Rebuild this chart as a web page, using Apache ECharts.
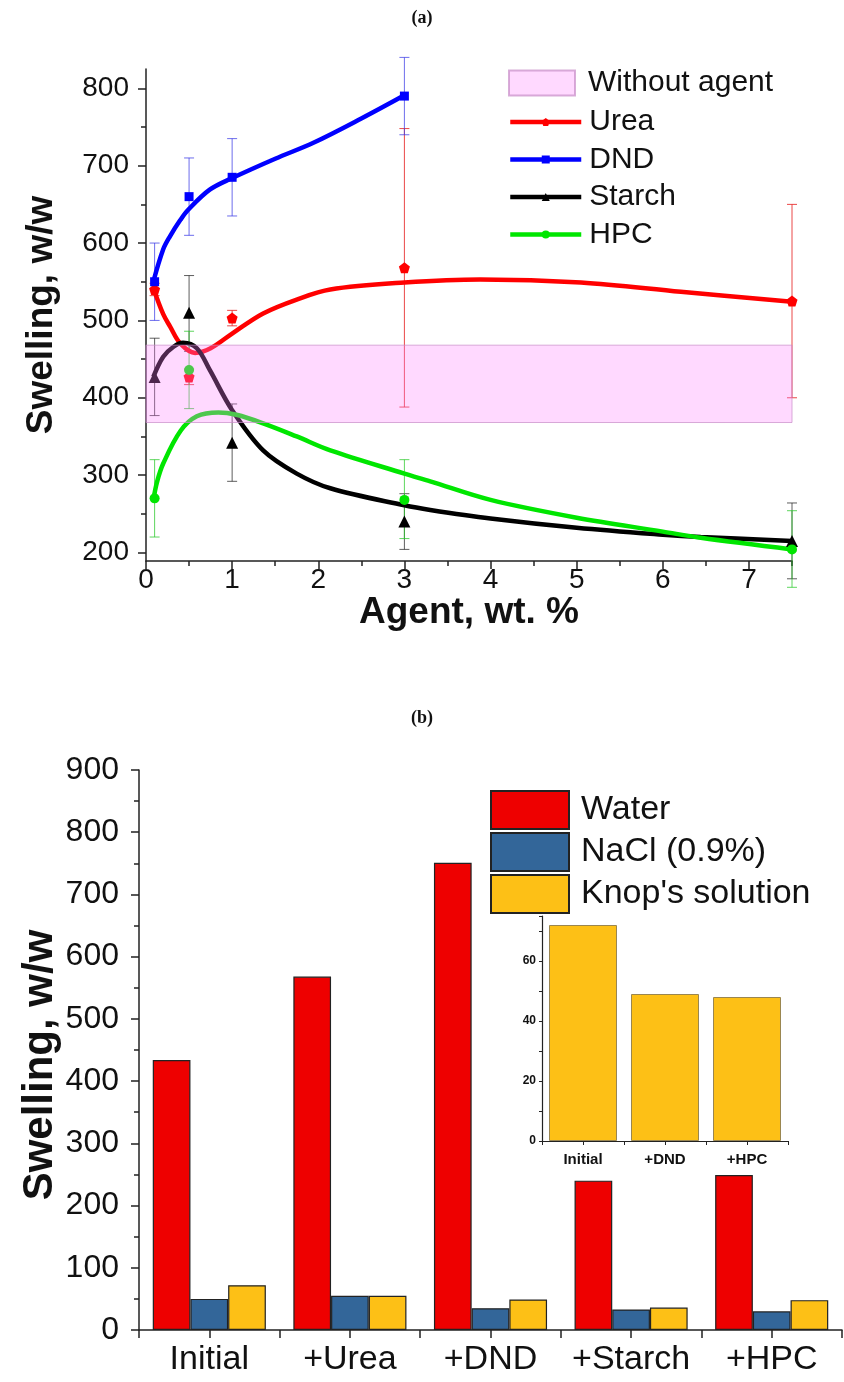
<!DOCTYPE html>
<html><head><meta charset="utf-8">
<script src="https://cdn.jsdelivr.net/npm/echarts@6/dist/echarts.min.js"></script>
<style>html,body{margin:0;padding:0;background:#fff;} #c{width:844px;height:1382px;}</style>
</head><body><div id="c"></div>
<script>
// ---------- Panel (a) data ----------
const topX = [0.1, 0.5, 1, 3, 7.5];
const ureaVal = [540, 427, 503, 568, 525];
const ureaLow = [532, 417, 493, 388, 400];
const ureaHigh = [548, 437, 513, 748, 650];
const dndX = [0.1, 0.5, 1, 3];
const dndVal = [550, 660, 685, 790];
const dndLow = [500, 610, 635, 740];
const dndHigh = [600, 710, 735, 840];
const starchVal = [427, 510, 342, 240, 215];
const starchLow = [377, 460, 292, 204, 166];
const starchHigh = [477, 558, 392, 276, 264];
const hpcX = [0.1, 0.5, 3, 7.5];
const hpcVal = [270, 436, 268, 204];
const hpcLow = [220, 386, 218, 155];
const hpcHigh = [320, 486, 320, 254];

// fitted curves
const ureaFitX = [0.085, 0.2, 0.28, 0.4, 0.57, 0.75, 1.0, 1.36, 1.75, 2.14, 3.0, 3.88, 5.05, 6.21, 7.5];
const ureaFitY = [542, 508, 492, 470, 458, 464, 483, 509, 527, 540, 549, 553, 549, 537, 524];
const dndFitX = [0.085, 0.2, 0.28, 0.4, 0.49, 0.74, 1.0, 1.5, 1.95, 2.5, 3.0];
const dndFitY = [550, 592, 609, 630, 643, 669, 684, 709, 730, 761, 791];
const starchFitX = [0.085, 0.2, 0.32, 0.43, 0.59, 0.74, 1.0, 1.36, 1.75, 2.14, 3.0, 3.3, 4, 5, 6, 6.44, 7.5];
const starchFitY = [427, 453, 466, 471, 464, 436, 384, 332, 302, 283, 261, 255, 244, 232, 223, 220, 215];
const hpcFitX = [0.085, 0.13, 0.2, 0.4, 0.59, 0.84, 1.05, 1.36, 1.75, 2.14, 3.0, 3.3, 4, 5, 6, 6.44, 7.5];
const hpcFitY = [268, 292, 315, 357, 376, 381, 378, 367, 350, 332, 302, 292, 268, 245, 227, 219, 204];

const bandX = [0, 7.5];
const bandY = [368, 468];

const topYTicks = [200, 300, 400, 500, 600, 700, 800];
const topYMinor = [250, 350, 450, 550, 650, 750];
const topXTicks = [0, 1, 2, 3, 4, 5, 6, 7];
const topXMinor = [0.5, 1.5, 2.5, 3.5, 4.5, 5.5, 6.5, 7.5];

// ---------- Panel (b) data ----------
const cats = ['Initial', '+Urea', '+DND', '+Starch', '+HPC'];
const water = [434, 568, 751, 240, 249];
const nacl = [50, 55, 35, 33, 30];
const knop = [72, 55, 49, 36, 48];
const insetCats = ['Initial', '+DND', '+HPC'];
const insetKnop = [72, 49, 48];

// ---------- helpers ----------
const zip = (xs, ys) => xs.map((x, i) => [x, ys[i]]);
const zip3 = (xs, a, b) => xs.map((x, i) => [x, a[i], b[i]]);
const FONT = 'Liberation Sans, Arial, sans-serif';
const AX = '#222';
const PENT = 'path://M0,-1L0.951,-0.309L0.588,0.809L-0.588,0.809L-0.951,-0.309Z';

function errBar(color, cap) {
  return function (params, api) {
    const x = api.value(0);
    const a = api.coord([x, api.value(1)]);
    const b = api.coord([x, api.value(2)]);
    const st = { stroke: color, lineWidth: 1 };
    return { type: 'group', children: [
      { type: 'line', shape: { x1: a[0], y1: a[1], x2: b[0], y2: b[1] }, style: st },
      { type: 'line', shape: { x1: a[0] - cap, y1: a[1], x2: a[0] + cap, y2: a[1] }, style: st },
      { type: 'line', shape: { x1: b[0] - cap, y1: b[1], x2: b[0] + cap, y2: b[1] }, style: st }
    ]};
  };
}
function errSeries(name, xs, lo, hi, color) {
  return { type: 'custom', name: name, xAxisIndex: 0, yAxisIndex: 0, clip: false, z: 3,
    renderItem: errBar(color, 5), data: zip3(xs, lo, hi), encode: { x: 0, y: [1, 2] }, silent: true };
}
function fitSeries(name, xs, ys, color, symbol) {
  return { type: 'line', name: name, xAxisIndex: 0, yAxisIndex: 0, data: zip(xs, ys), smooth: 0.35,
    showSymbol: false, symbol: symbol, symbolSize: 8, z: 4,
    lineStyle: { color: color, width: 4.5 }, itemStyle: { color: color } };
}
function ptSeries(name, xs, ys, color, symbol, size) {
  return { type: 'scatter', name: name, xAxisIndex: 0, yAxisIndex: 0, data: zip(xs, ys),
    symbol: symbol, symbolSize: size, z: 5, itemStyle: { color: color, opacity: 1 } };
}

const chart = echarts.init(document.getElementById('c'), null, { renderer: 'canvas' });

const titleRich = { n: { fontFamily: 'Liberation Serif', fontSize: 18, color: '#111' },
                    b: { fontFamily: 'Liberation Serif', fontSize: 18, fontWeight: 'bold', color: '#111' } };

const option = {
  backgroundColor: '#fff',
  animation: false,
  textStyle: { fontFamily: FONT, color: '#111' },
  title: [
    { text: '{n|(}{b|a}{n|)}', left: 'center', top: 9, padding: 0, textStyle: { rich: titleRich } },
    { text: '{n|(}{b|b}{n|)}', left: 'center', top: 709, padding: 0, textStyle: { rich: titleRich } }
  ],
  legend: [
    { data: [{ name: 'Without agent', icon: 'rect' }], left: 508, top: 68, padding: 0, itemWidth: 66, itemHeight: 25,
      textStyle: { fontSize: 30, lineHeight: 30, color: '#111', padding: [0, 0, 0, 8] }, selectedMode: false },
    { data: ['Urea', 'DND', 'Starch', 'HPC'], orient: 'vertical', left: 508, top: 107, padding: 0, itemWidth: 71, itemHeight: 10,
      itemGap: 7.5, lineStyle: { width: 4.5 },
      textStyle: { fontSize: 30, lineHeight: 30, color: '#111', padding: [0, 0, 0, 3] }, selectedMode: false },
    { data: [{ name: 'Water', icon: 'rect' }, { name: 'NaCl (0.9%)', icon: 'rect' }, { name: "Knop's solution", icon: 'rect' }],
      orient: 'vertical', left: 490, top: 790, padding: 0, itemWidth: 78, itemHeight: 38, itemGap: 2,
      textStyle: { fontSize: 34, lineHeight: 34, color: '#111', padding: [0, 0, 0, 7] }, selectedMode: false }
  ],
  grid: [
    { left: 146, top: 69, width: 646, height: 492 },
    { left: 139, top: 770, width: 703, height: 560 },
    { left: 542, top: 916, width: 246, height: 225 }
  ],
  xAxis: [
    { type: 'value', gridIndex: 0, min: 0, max: 7.5, position: 'bottom',
      name: 'Agent, wt. %', nameLocation: 'middle', nameGap: 33, nameMoveOverlap: false,
      nameTextStyle: { fontSize: 37, fontWeight: 'bold', color: '#111' },
      axisLine: { show: true, lineStyle: { color: AX, width: 1.5 } },
      axisTick: { show: true, inside: false, length: 8, customValues: topXTicks, lineStyle: { color: AX, width: 1.5 } },
      axisLabel: { customValues: topXTicks, fontSize: 28, color: '#111', margin: 5 },
      splitLine: { show: false } },
    { type: 'value', gridIndex: 0, min: 0, max: 7.5, position: 'bottom',
      axisLine: { show: false }, axisLabel: { show: false }, splitLine: { show: false },
      axisTick: { show: true, length: 5, customValues: topXMinor, lineStyle: { color: AX, width: 1.5 } } },
    { type: 'category', gridIndex: 1, data: cats, position: 'bottom',
      axisLine: { show: true, lineStyle: { color: AX, width: 1.5 } },
      axisTick: { show: true, alignWithLabel: false, interval: 0, length: 8, lineStyle: { color: AX, width: 1.5 } },
      axisLabel: { fontSize: 34, color: '#111', margin: 13, interval: 0 } },
    { type: 'category', gridIndex: 1, data: cats, position: 'bottom',
      axisLine: { show: false }, axisLabel: { show: false },
      axisTick: { show: true, alignWithLabel: true, interval: 0, length: 8, lineStyle: { color: AX, width: 1.5 } } },
    { type: 'category', gridIndex: 2, data: insetCats, position: 'bottom',
      axisLine: { show: true, lineStyle: { color: AX, width: 1.2 } },
      axisTick: { show: true, alignWithLabel: false, interval: 0, length: 4, lineStyle: { color: AX } },
      axisLabel: { fontSize: 15, fontWeight: 'bold', color: '#111', margin: 11, interval: 0 } },
    { type: 'category', gridIndex: 2, data: insetCats, position: 'bottom',
      axisLine: { show: false }, axisLabel: { show: false },
      axisTick: { show: true, alignWithLabel: true, interval: 0, length: 4, lineStyle: { color: AX } } }
  ],
  yAxis: [
    { type: 'value', gridIndex: 0, min: 189, max: 825, position: 'left',
      name: 'Swelling, w/w', nameLocation: 'middle', nameGap: 86, nameMoveOverlap: false,
      nameTextStyle: { fontSize: 37, fontWeight: 'bold', color: '#111' },
      axisLine: { show: true, lineStyle: { color: AX, width: 1.5 } },
      axisTick: { show: true, length: 8, customValues: topYTicks, lineStyle: { color: AX, width: 1.5 } },
      axisLabel: { customValues: topYTicks, fontSize: 28, color: '#111', margin: 17 },
      splitLine: { show: false } },
    { type: 'value', gridIndex: 0, min: 189, max: 825, position: 'left',
      axisLine: { show: false }, axisLabel: { show: false }, splitLine: { show: false },
      axisTick: { show: true, length: 5, customValues: topYMinor, lineStyle: { color: AX, width: 1.5 } } },
    { type: 'value', gridIndex: 1, min: 0, max: 900, interval: 100, position: 'left',
      name: 'Swelling, w/w', nameLocation: 'middle', nameGap: 78, nameMoveOverlap: false,
      nameTextStyle: { fontSize: 42, fontWeight: 'bold', color: '#111', padding: [0, 30, 0, 0] },
      axisLine: { show: true, lineStyle: { color: AX, width: 1.5 } },
      axisTick: { show: true, length: 8, lineStyle: { color: AX, width: 1.5 } },
      minorTick: { show: true, splitNumber: 2, length: 5, lineStyle: { color: AX, width: 1.5 } },
      axisLabel: { fontSize: 32, color: '#111', margin: 20 },
      splitLine: { show: false } },
    { type: 'value', gridIndex: 2, min: 0, max: 75, interval: 10, position: 'left',
      axisLine: { show: true, lineStyle: { color: AX, width: 1.2 } },
      axisTick: { show: true, length: 3, lineStyle: { color: AX } },
      axisLabel: { fontSize: 12, fontWeight: 'bold', color: '#111', margin: 6,
                   formatter: v => (v % 20 === 0 ? String(v) : '') },
      splitLine: { show: false } }
  ],
  series: [
    errSeries('Urea err', topX, ureaLow, ureaHigh, 'rgba(230,40,40,0.85)'),
    errSeries('DND err', dndX, dndLow, dndHigh, 'rgba(60,60,230,0.75)'),
    errSeries('Starch err', topX, starchLow, starchHigh, 'rgba(40,40,40,0.75)'),
    errSeries('HPC err', hpcX, hpcLow, hpcHigh, 'rgba(40,200,40,0.75)'),
    fitSeries('Urea', ureaFitX, ureaFitY, '#ff0000', PENT),
    fitSeries('DND', dndFitX, dndFitY, '#0000ff', 'rect'),
    fitSeries('Starch', starchFitX, starchFitY, '#000000', 'triangle'),
    fitSeries('HPC', hpcFitX, hpcFitY, '#00e600', 'circle'),
    ptSeries('Urea pts', topX, ureaVal, '#ff0000', PENT, 11),
    ptSeries('DND pts', dndX, dndVal, '#0000ff', 'rect', 9),
    ptSeries('Starch pts', topX, starchVal, '#000000', 'triangle', 12),
    ptSeries('HPC pts', hpcX, hpcVal, '#00e600', 'circle', 10),
    { type: 'custom', name: 'Without agent', xAxisIndex: 0, yAxisIndex: 0, z: 10, silent: true,
      itemStyle: { color: 'rgba(255,128,255,0.3)', borderColor: 'rgba(200,140,200,0.7)', borderWidth: 1 },
      data: [[bandX[0], bandY[0], bandX[1], bandY[1]]], encode: { x: [0, 2], y: [1, 3] },
      renderItem: function (params, api) {
        const p0 = api.coord([api.value(0), api.value(3)]);
        const p1 = api.coord([api.value(2), api.value(1)]);
        return { type: 'rect', shape: { x: p0[0], y: p0[1], width: p1[0] - p0[0], height: p1[1] - p0[1] },
                 style: { fill: 'rgba(255,128,255,0.3)', stroke: 'rgba(200,140,200,0.7)', lineWidth: 1 } };
      } },
    { type: 'bar', name: 'Water', xAxisIndex: 2, yAxisIndex: 2, data: water, barWidth: 37.7, barGap: '0%',
      itemStyle: { color: '#ee0000', borderColor: '#222', borderWidth: 1.2 } },
    { type: 'bar', name: 'NaCl (0.9%)', xAxisIndex: 2, yAxisIndex: 2, data: nacl, barWidth: 37.7, barGap: '0%',
      itemStyle: { color: '#336699', borderColor: '#222', borderWidth: 1.2 } },
    { type: 'bar', name: "Knop's solution", xAxisIndex: 2, yAxisIndex: 2, data: knop, barWidth: 37.7, barGap: '0%',
      itemStyle: { color: '#fdc016', borderColor: '#222', borderWidth: 1.2 } },
    { type: 'bar', name: 'Knop inset', xAxisIndex: 4, yAxisIndex: 3, data: insetKnop, barWidth: 68,
      itemStyle: { color: '#fdc016', borderColor: '#9a8650', borderWidth: 1 } }
  ]
};
chart.setOption(option);
</script></body></html>
